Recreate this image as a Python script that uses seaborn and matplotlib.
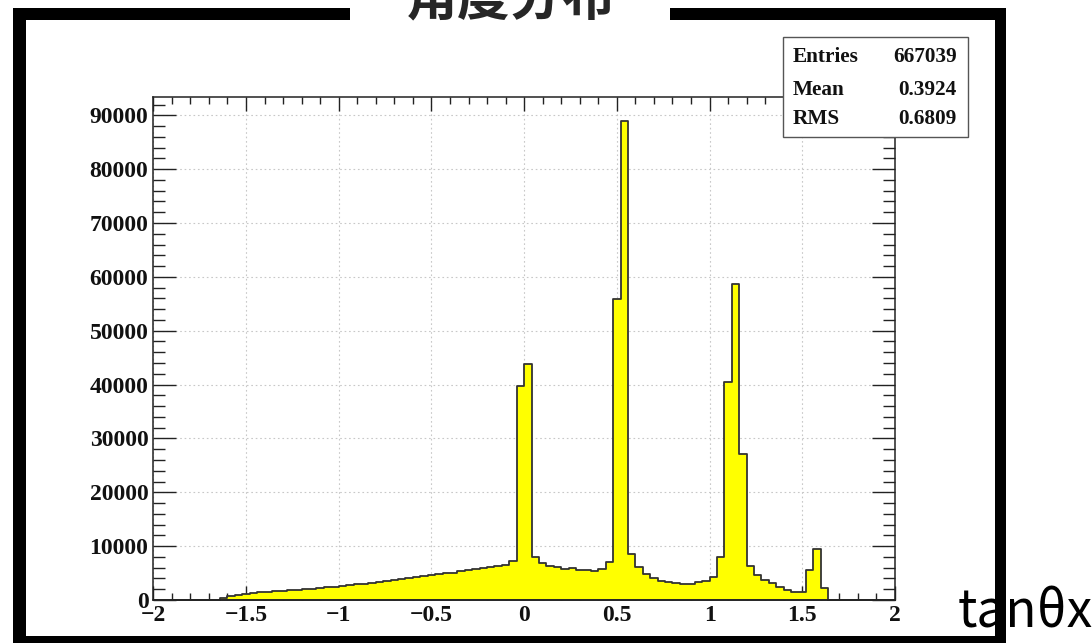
import numpy as np
import pandas as pd
import matplotlib
matplotlib.use("Agg")
import matplotlib.pyplot as plt
from matplotlib.patches import Rectangle
from matplotlib.ticker import MultipleLocator, FuncFormatter
import seaborn as sns

# Histogram definition: 100 bins of tanθx between -2 and 2
x_low, x_high, n_bins = -2.0, 2.0, 100

# Bin contents (entries per bin), left to right
counts = [
    0, 0, 0, 0, 0, 0, 0, 0, 0,
    300, 750, 950, 1100, 1250, 1400, 1500, 1600, 1700, 1800,
    1900, 2000, 2100, 2200, 2350, 2500, 2600, 2750, 2900, 3050,
    3200, 3350, 3500, 3700, 3900, 4100, 4300, 4500, 4600, 4800,
    5000, 5100, 5400, 5600, 5700, 5900, 6100, 6250, 6500, 7300,
    39700, 43900, 7900, 6800, 6300, 6200, 5800, 5900, 5600, 5500,
    5400, 5700, 7100, 55800, 89000, 8500, 6200, 4800, 4000, 3600,
    3300, 3100, 3000, 3000, 3300, 3600, 4300, 8000, 40400, 58700,
    27100, 6300, 4600, 3800, 3100, 2400, 1800, 1500, 1400, 5600,
    9500, 2300,
    0, 0, 0, 0, 0, 0, 0, 0, 0,
]

stat_names = ["Entries", "Mean", "RMS"]
stat_values = ["667039", "0.3924", "0.6809"]

title_text = "角度分布"
x_label = "tanθx"

edges = np.linspace(x_low, x_high, n_bins + 1)
df = pd.DataFrame({"tan_theta_x": 0.5 * (edges[:-1] + edges[1:]), "entries": counts})

sns.set_theme(style="white")
plt.rcParams["font.family"] = ["Liberation Serif", "DejaVu Serif"]
plt.rcParams["axes.unicode_minus"] = True

W, H = 1092, 643
fig = plt.figure(figsize=(W / 100, H / 100), dpi=100)
fig.patch.set_facecolor("white")


def fx(px):
    return px / W


def fy(py):
    return 1 - py / H


ax_l, ax_r, ax_t, ax_b = 153.3, 895.0, 96.7, 600.0
ax = fig.add_axes([fx(ax_l), fy(ax_b), fx(ax_r - ax_l), (ax_b - ax_t) / H])
ax.set_facecolor("white")

sns.histplot(
    data=df, x="tan_theta_x", weights="entries", bins=n_bins,
    binrange=(x_low, x_high), element="step", fill=True,
    color="#ffff00", alpha=1.0, edgecolor="#333333", linewidth=1.3, ax=ax,
    zorder=2,
)

ax.set_xlim(x_low, x_high)
ax.set_ylim(0, 93450)
ax.set_xlabel("")
ax.set_ylabel("")

ax.xaxis.set_major_locator(MultipleLocator(0.5))
ax.xaxis.set_minor_locator(MultipleLocator(0.1))
ax.yaxis.set_major_locator(MultipleLocator(10000))
ax.yaxis.set_minor_locator(MultipleLocator(2000))
ax.xaxis.set_major_formatter(FuncFormatter(lambda v, p: f"{v:g}".replace("-", "\u2212")))
ax.yaxis.set_major_formatter(FuncFormatter(lambda v, p: f"{int(round(v))}"))

ax.grid(True, which="major", linestyle=(0, (1.5, 2.5)), color="#c8c8c8", linewidth=0.8, zorder=0)
ax.set_axisbelow(True)

ax.tick_params(axis="x", which="major", direction="in", length=10, width=1.0,
               top=True, bottom=True, color="#222222", pad=3.5, labelsize=17)
ax.tick_params(axis="x", which="minor", direction="in", length=5, width=1.0,
               top=True, bottom=True, color="#222222")
ax.tick_params(axis="y", which="major", direction="in", length=16.5, width=1.0,
               left=True, right=True, color="#222222", pad=3.5, labelsize=17)
ax.tick_params(axis="y", which="minor", direction="in", length=8.5, width=1.0,
               left=True, right=True, color="#222222")
for lab in ax.get_xticklabels() + ax.get_yticklabels():
    lab.set_fontweight("bold")
    lab.set_color("#111111")
for sp in ax.spines.values():
    sp.set_color("#222222")
    sp.set_linewidth(1.1)
    sp.set_visible(True)

# Axis title placed outside the framed pad
fig.text(fx(958), fy(627), x_label, family=["Noto Sans CJK JP", "DejaVu Sans"],
         fontsize=37, ha="left", va="baseline", color="black", zorder=1)

# Thick black pad frame
frame = [
    (13, 8, 1006, 20),
    (13, 8, 26, 643),
    (995, 8, 1006, 643),
    (13, 636, 1006, 643),
]
for x0, y0, x1, y1 in frame:
    fig.add_artist(Rectangle((fx(x0), fy(y1)), fx(x1 - x0), (y1 - y0) / H,
                             transform=fig.transFigure, facecolor="black",
                             edgecolor="none", zorder=2))

# Title sits in a white gap cut into the top of the frame
fig.add_artist(Rectangle((fx(350), fy(22)), fx(670 - 350), 24 / H,
                         transform=fig.transFigure, facecolor="white",
                         edgecolor="none", zorder=3))
fig.text(fx(510), fy(14), title_text, family=["Noto Sans CJK SC", "DejaVu Sans"],
         fontsize=38, fontweight="bold", ha="center", va="baseline", zorder=4)

# Statistics box
fig.add_artist(Rectangle((fx(783), fy(137.3)), fx(968 - 783), (137.3 - 37.3) / H,
                         transform=fig.transFigure, facecolor="white",
                         edgecolor="#555555", linewidth=1.0, zorder=5))
baselines = [61.7, 95.0, 124.3]
for name, val, yb in zip(stat_names, stat_values, baselines):
    fig.text(fx(793), fy(yb), name, fontsize=15.3, fontweight="bold",
             ha="left", va="baseline", color="#111111", zorder=6)
    fig.text(fx(956.7), fy(yb), val, fontsize=15.3, fontweight="bold",
             ha="right", va="baseline", color="#111111", zorder=6)

fig.savefig("out.png", dpi=100, facecolor="white")
